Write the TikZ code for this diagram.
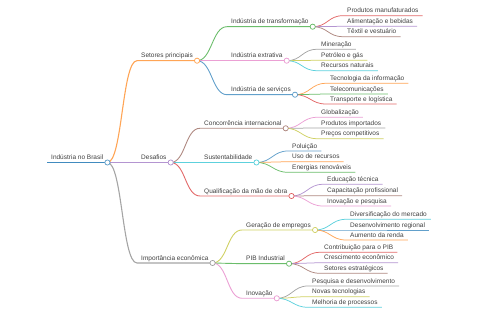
\documentclass[tikz,border=0pt]{standalone}
\usepackage{fontspec}
\setmainfont{Liberation Sans}
\definecolor{cblue}{HTML}{1F77B4}
\definecolor{corange}{HTML}{FF7F0E}
\definecolor{cgreen}{HTML}{2CA02C}
\definecolor{cred}{HTML}{D62728}
\definecolor{cpurple}{HTML}{9467BD}
\definecolor{cbrown}{HTML}{8C564B}
\definecolor{cpink}{HTML}{E377C2}
\definecolor{cgray}{HTML}{7F7F7F}
\definecolor{colive}{HTML}{BCBD22}
\definecolor{ccyan}{HTML}{17BECF}

\begin{document}
\begin{tikzpicture}[
  x=1pt, y=1pt,
  topic/.style={anchor=south west, inner xsep=4pt, inner ysep=2.5pt, text depth=0pt,
    text=black!75, font=\fontsize{6.5}{8}\selectfont},
  knob/.style={line width=0.7pt, fill=white}
]
\useasboundingbox (0,0) rectangle (480,320);

% root and first level
\node[topic] (root) at (47,157.5) {Indústria no Brasil};
\node[topic] (setores) at (137,259.3) {Setores principais};
\node[topic] (desafios) at (137,157.5) {Desafios};
\node[topic] (importancia) at (137,57) {Importância econômica};

% setores principais
\node[topic] (transformacao) at (227,293.3) {Indústria de transformação};
\node[topic] (extrativa) at (227,259.3) {Indústria extrativa};
\node[topic] (servicos) at (227,225.3) {Indústria de serviços};
\node[topic] (manufaturados) at (343,304.3) {Produtos manufaturados};
\node[topic] (alimentacao) at (343,293.7) {Alimentação e bebidas};
\node[topic] (textil) at (343,283.3) {Têxtil e vestuário};
\node[topic] (mineracao) at (317,270.7) {Mineração};
\node[topic] (petroleo) at (317,259.7) {Petróleo e gás};
\node[topic] (recursos) at (317,249.3) {Recursos naturais};
\node[topic] (tecnologia) at (326,236.7) {Tecnologia da informação};
\node[topic] (telecom) at (326,226) {Telecomunicações};
\node[topic] (transporte) at (326,216) {Transporte e logística};

% desafios
\node[topic] (concorrencia) at (200,191.7) {Concorrência internacional};
\node[topic] (sustentabilidade) at (200,157.5) {Sustentabilidade};
\node[topic] (qualificacao) at (200,124) {Qualificação da mão de obra};
\node[topic] (globalizacao) at (317,202.7) {Globalização};
\node[topic] (importados) at (317,192) {Produtos importados};
\node[topic] (precos) at (317,181.3) {Preços competitivos};
\node[topic] (poluicao) at (288,169) {Poluição};
\node[topic] (usorecursos) at (288,158.3) {Uso de recursos};
\node[topic] (energias) at (288,147.7) {Energias renováveis};
\node[topic] (educacao) at (323,135.7) {Educação técnica};
\node[topic] (capacitacao) at (323,124.3) {Capacitação profissional};
\node[topic] (inovpesquisa) at (323,114) {Inovação e pesquisa};

% importancia economica
\node[topic] (geracao) at (242,90) {Geração de empregos};
\node[topic] (pib) at (242,56.3) {PIB Industrial};
\node[topic] (inovacao) at (242,21.7) {Inovação};
\node[topic] (diversificacao) at (346,100.7) {Diversificação do mercado};
\node[topic] (desenvolvimento) at (346,90) {Desenvolvimento regional};
\node[topic] (renda) at (346,80) {Aumento da renda};
\node[topic] (contribuicao) at (320,67.7) {Contribuição para o PIB};
\node[topic] (crescimento) at (320,57.3) {Crescimento econômico};
\node[topic] (estrategicos) at (320,46.7) {Setores estratégicos};
\node[topic] (pesquisa) at (308,34) {Pesquisa e desenvolvimento};
\node[topic] (tecnologias) at (308,23.3) {Novas tecnologias};
\node[topic] (melhoria) at (308,12.7) {Melhoria de processos};

\draw[cblue!85, line width=1.3pt] (root.south west) -- (root.south east);

% links: parent/child/colour/width
\foreach \p/\c/\col/\w in {
  root/setores/corange/1.1, root/desafios/cpurple/1.1, root/importancia/cgray/1.1,
  setores/transformacao/cgreen/0.9, setores/extrativa/cpink/0.9, setores/servicos/cblue/0.9,
  transformacao/manufaturados/cred/0.75, transformacao/alimentacao/cpurple/0.75, transformacao/textil/cbrown/0.75,
  extrativa/mineracao/cgray/0.75, extrativa/petroleo/colive/0.75, extrativa/recursos/ccyan/0.75,
  servicos/tecnologia/corange/0.75, servicos/telecom/cgreen/0.75, servicos/transporte/cred/0.75,
  desafios/concorrencia/cbrown/0.9, desafios/sustentabilidade/ccyan/0.9, desafios/qualificacao/cred/0.9,
  concorrencia/globalizacao/cpink/0.75, concorrencia/importados/cgray/0.75, concorrencia/precos/colive/0.75,
  sustentabilidade/poluicao/cblue/0.75, sustentabilidade/usorecursos/corange/0.75, sustentabilidade/energias/cgreen/0.75,
  qualificacao/educacao/cpurple/0.75, qualificacao/capacitacao/cbrown/0.75, qualificacao/inovpesquisa/cpink/0.75,
  importancia/geracao/colive/0.9, importancia/pib/cgreen/0.9, importancia/inovacao/cpink/0.9,
  geracao/diversificacao/ccyan/0.75, geracao/desenvolvimento/cblue/0.75, geracao/renda/corange/0.75,
  pib/contribuicao/cred/0.75, pib/crescimento/cpurple/0.75, pib/estrategicos/cbrown/0.75,
  inovacao/pesquisa/cgray/0.75, inovacao/tecnologias/colive/0.75, inovacao/melhoria/ccyan/0.75}
  \draw[color=\col!70, line width=\w pt] (\p.south east)
    .. controls ([xshift=15pt]\p.south east) and ([xshift=-15pt]\c.south west) .. (\c.south west)
    -- (\c.south east);

% circles on the branching nodes
\foreach \n/\col in {root/cblue, setores/corange, desafios/cpurple, importancia/cgray,
  transformacao/cgreen, extrativa/cpink, servicos/cblue,
  concorrencia/cbrown, sustentabilidade/ccyan, qualificacao/cred,
  geracao/colive, pib/cgreen, inovacao/cpink}
  \draw[color=\col!75, knob] (\n.south east) circle (2.6);
\end{tikzpicture}
\end{document}
